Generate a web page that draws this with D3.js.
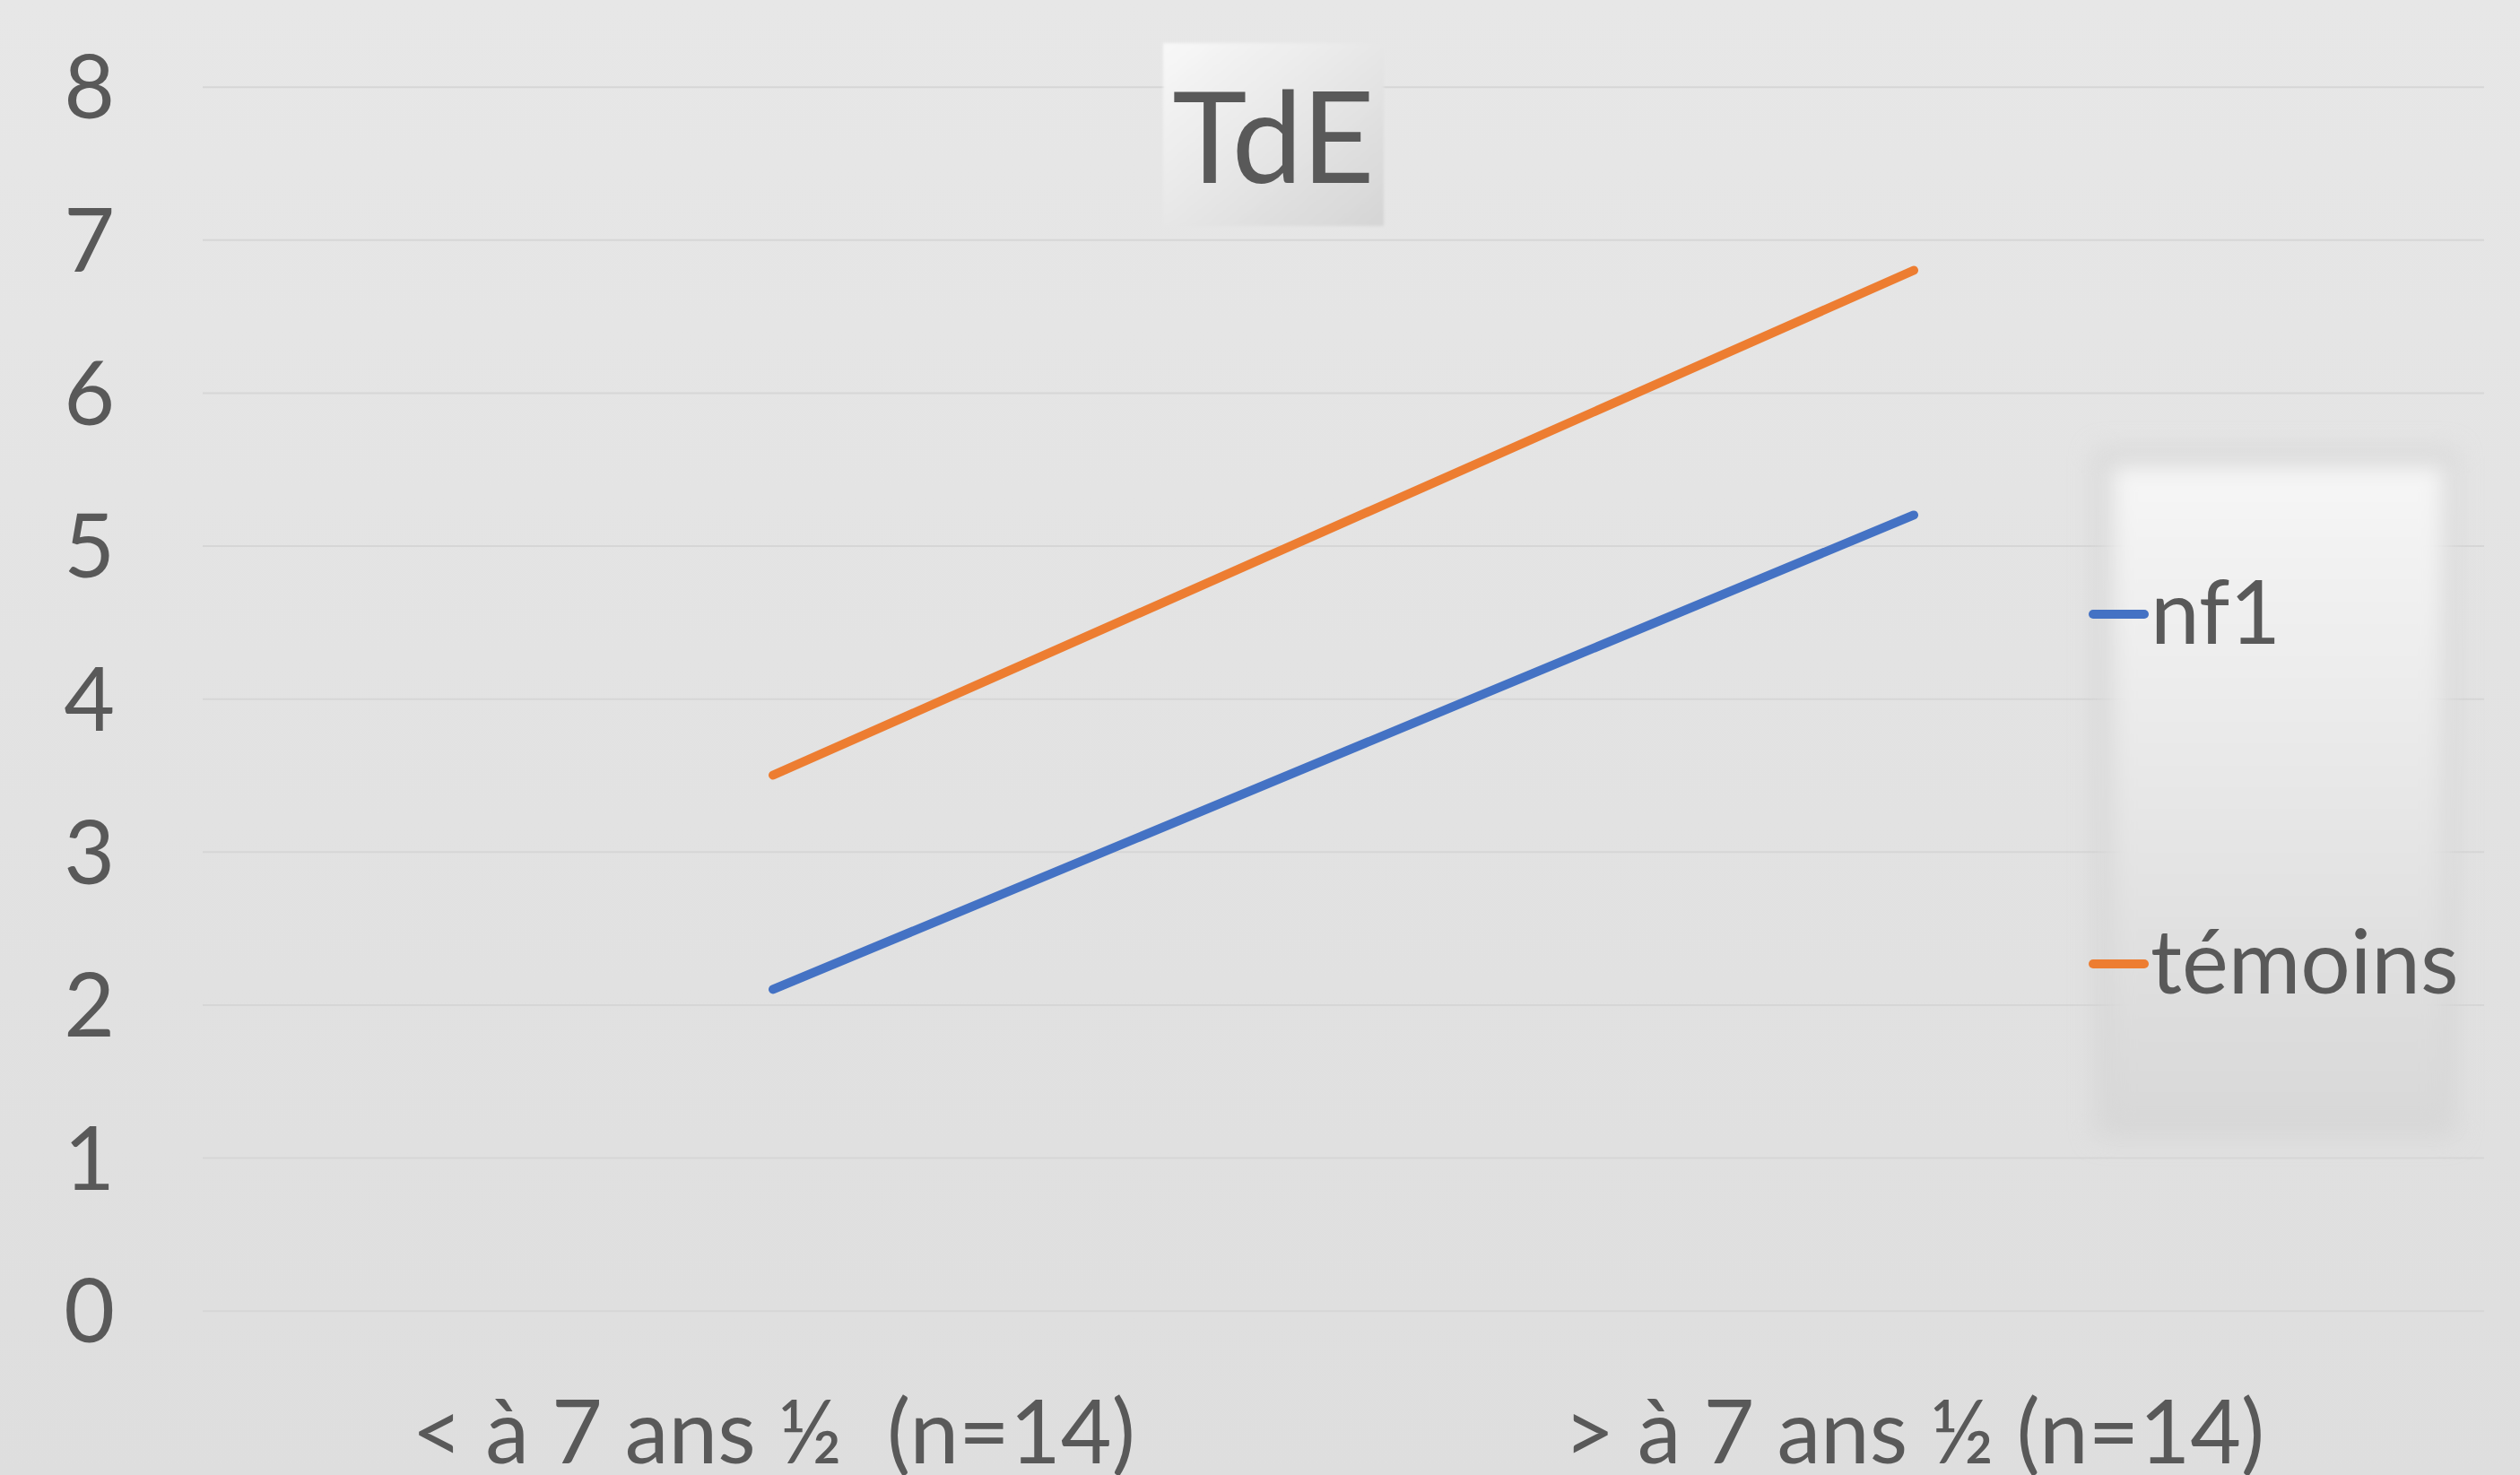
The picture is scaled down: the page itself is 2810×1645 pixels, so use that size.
<!DOCTYPE html>
<html>
<head>
<meta charset="utf-8">
<script src="https://cdn.jsdelivr.net/npm/d3@7"></script>
<style>
  html, body { margin: 0; padding: 0; background: #e3e3e3; }
  svg { display: block; }
  text { font-family: Lato, "Open Sans", sans-serif; fill: #595959; }
</style>
</head>
<body>
<div id="chart"></div>
<script>
'use strict';

var categories = ["< à 7 ans ½  (n=14)", "> à 7 ans ½ (n=14)"];
var seriesNames = ["nf1", "témoins"];
var nf1Values = [2.1, 5.2];
var temoinsValues = [3.5, 6.8];
var yTicks = [0, 1, 2, 3, 4, 5, 6, 7, 8];
var colors = ["#4472C4", "#ED7D31"];

var W = 2810, H = 1645;
var plotLeft = 226, plotRight = 2770, plotTop = 96.7, plotBottom = 1461.7;

var svg = d3.select("#chart").append("svg")
  .attr("width", W).attr("height", H);

var defs = svg.append("defs");
var bg = defs.append("linearGradient").attr("id", "bg")
  .attr("x1", 0).attr("y1", 0).attr("x2", 0).attr("y2", 1);
bg.append("stop").attr("offset", "0%").attr("stop-color", "#e7e7e7");
bg.append("stop").attr("offset", "100%").attr("stop-color", "#dedede");

var tg = defs.append("linearGradient").attr("id", "titleg")
  .attr("x1", 0).attr("y1", 0).attr("x2", 1).attr("y2", 1);
tg.append("stop").attr("offset", "0%").attr("stop-color", "#f8f8f8");
tg.append("stop").attr("offset", "100%").attr("stop-color", "#d5d5d5");

var lg = defs.append("linearGradient").attr("id", "legendg")
  .attr("x1", 0).attr("y1", 0).attr("x2", 0).attr("y2", 1);
lg.append("stop").attr("offset", "0%").attr("stop-color", "#f6f6f6");
lg.append("stop").attr("offset", "100%").attr("stop-color", "#d8d8d8");

defs.append("filter").attr("id", "soft")
  .attr("x", "-20%").attr("y", "-20%").attr("width", "140%").attr("height", "140%")
  .append("feGaussianBlur").attr("stdDeviation", 12);
defs.append("filter").attr("id", "shadow")
  .attr("x", "-20%").attr("y", "-20%").attr("width", "140%").attr("height", "140%")
  .append("feGaussianBlur").attr("stdDeviation", 14);
defs.append("filter").attr("id", "soft2")
  .append("feGaussianBlur").attr("stdDeviation", 1.5);

svg.append("rect").attr("width", W).attr("height", H).attr("fill", "url(#bg)");

var x = d3.scalePoint().domain(categories).range([plotLeft, plotRight]).padding(0.5);
var y = d3.scaleLinear().domain([0, 8]).range([plotBottom, plotTop]);

// gridlines + y labels
var yAxis = svg.append("g")
  .attr("transform", `translate(${plotLeft},0)`)
  .call(d3.axisLeft(y).tickValues(yTicks).tickSize(-(plotRight - plotLeft)).tickPadding(98).tickFormat(d3.format("d")));
yAxis.select(".domain").remove();
yAxis.selectAll("line").attr("stroke", "#d6d6d6").attr("stroke-width", 2);
yAxis.selectAll("text")
  .style("font-size", "98px").attr("fill", "#595959").attr("dy", "0.36em");

// category labels
var xAxis = svg.append("g")
  .attr("transform", `translate(0,${plotBottom})`)
  .call(d3.axisBottom(x).tickSize(0));
xAxis.select(".domain").remove();
xAxis.selectAll("text")
  .style("font-size", "98px").attr("fill", "#595959")
  .attr("y", 170).attr("dy", 0)
  .style("white-space", "pre");

// title
svg.append("rect").attr("x", 1297).attr("y", 48).attr("width", 246).attr("height", 204)
  .attr("fill", "url(#titleg)").attr("filter", "url(#soft2)");
svg.append("text").attr("x", 1420).attr("y", 204)
  .attr("text-anchor", "middle").style("font-size", "141px").text("TdE");

// lines
var line = d3.line().x(function(d, i) { return x(categories[i]); }).y(function(d) { return y(d); });
[nf1Values, temoinsValues].forEach(function(vals, k) {
  svg.append("path").datum(vals)
    .attr("d", line)
    .attr("fill", "none")
    .attr("stroke", colors[k])
    .attr("stroke-width", 10)
    .attr("stroke-linecap", "round");
});

// legend: soft darker rim, then blurred gradient panel
svg.append("rect").attr("x", 2335).attr("y", 500).attr("width", 405).attr("height", 770)
  .attr("fill", "#d2d2d2").attr("opacity", 0.6).attr("filter", "url(#shadow)");
svg.append("rect").attr("x", 2355).attr("y", 520).attr("width", 370).attr("height", 730)
  .attr("fill", "url(#legendg)").attr("filter", "url(#soft)");
var legendY = [685, 1075];
seriesNames.forEach(function(name, k) {
  var g = svg.append("g");
  g.append("line").attr("x1", 2334).attr("x2", 2391)
    .attr("y1", legendY[k]).attr("y2", legendY[k])
    .attr("stroke", colors[k]).attr("stroke-width", 10).attr("stroke-linecap", "round");
  g.append("text").attr("x", 2398).attr("y", legendY[k] + 33)
    .style("font-size", "98px").text(name);
});
</script>
</body>
</html>
